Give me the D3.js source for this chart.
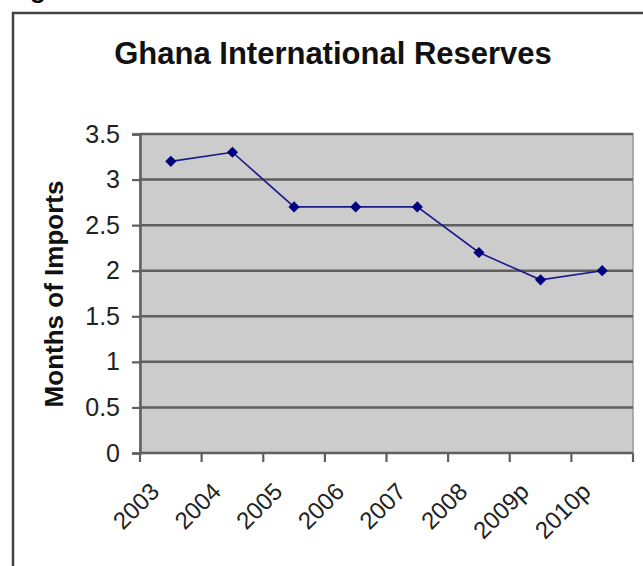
<!DOCTYPE html>
<html lang="en">
<head>
    <meta charset="UTF-8">
    <title>Ghana International Reserves</title>
    <style>
        body { margin: 0; background: #fff; }
        svg { display: block; font-family: "Liberation Sans", Arial, sans-serif; }
    </style>
</head>
<body>
    <div id="chart"></div>
    <script src="https://d3js.org/d3.v7.min.js"></script>
    <script>
        const years = ["2003", "2004", "2005", "2006", "2007", "2008", "2009p", "2010p"];
        const months = [3.2, 3.3, 2.7, 2.7, 2.7, 2.2, 1.9, 2.0];
        const yTicks = [0, 0.5, 1, 1.5, 2, 2.5, 3, 3.5];

        const W = 643, H = 566;
        const plot = { left: 140, right: 633, top: 134, bottom: 453 };

        const svg = d3.select("#chart").append("svg")
            .attr("width", W)
            .attr("height", H);

        // bit of the caption above, cut off by the crop
        svg.append("text")
            .attr("x", 30).attr("y", -2)
            .attr("font-size", 26).attr("font-weight", "bold")
            .text("g");

        // outer chart frame
        svg.append("rect")
            .attr("x", 13).attr("y", 13)
            .attr("width", 640).attr("height", 600)
            .attr("fill", "none")
            .attr("stroke", "#444")
            .attr("stroke-width", 2.5);

        svg.append("text")
            .attr("x", 333).attr("y", 64)
            .attr("text-anchor", "middle")
            .attr("font-size", 31).attr("font-weight", "bold")
            .attr("fill", "#111")
            .text("Ghana International Reserves");

        const x = d3.scaleBand().domain(years).range([plot.left, plot.right]);
        const y = d3.scaleLinear().domain([0, 3.5]).range([plot.bottom, plot.top]);

        svg.append("rect")
            .attr("x", plot.left).attr("y", plot.top)
            .attr("width", plot.right - plot.left)
            .attr("height", plot.bottom - plot.top)
            .attr("fill", "#cccccc")
            .attr("stroke", "#999")
            .attr("stroke-width", 1.5);

        // gridlines
        svg.append("g")
            .selectAll("line")
            .data(yTicks.filter(d => d > 0))
            .join("line")
            .attr("x1", plot.left).attr("x2", plot.right)
            .attr("y1", d => y(d)).attr("y2", d => y(d))
            .attr("stroke", "#5f5f5f")
            .attr("stroke-width", 2.5);

        // y axis
        const yAxis = svg.append("g")
            .attr("transform", `translate(${plot.left},0)`)
            .call(d3.axisLeft(y).tickValues(yTicks).tickFormat(d3.format("")).tickSize(8).tickPadding(12));
        yAxis.select(".domain").attr("stroke", "#5f5f5f").attr("stroke-width", 2.5);
        yAxis.selectAll(".tick line").attr("stroke", "#5f5f5f").attr("stroke-width", 2.2);
        yAxis.selectAll("text").attr("font-size", 25).attr("fill", "#222")
            .attr("font-family", "Liberation Sans, Arial, sans-serif");

        // x axis: ticks between categories
        const xAxis = svg.append("g")
            .attr("transform", `translate(0,${plot.bottom})`);
        xAxis.append("line")
            .attr("x1", plot.left).attr("x2", plot.right)
            .attr("stroke", "#5f5f5f").attr("stroke-width", 2.5);
        const bounds = years.map(d => x(d)).concat([x(years[years.length - 1]) + x.bandwidth()]);
        xAxis.selectAll(".xt")
            .data(bounds)
            .join("line")
            .attr("class", "xt")
            .attr("x1", d => d).attr("x2", d => d)
            .attr("y1", 0).attr("y2", 9)
            .attr("stroke", "#5f5f5f").attr("stroke-width", 2.2);
        xAxis.selectAll(".xl")
            .data(years)
            .join("text")
            .attr("class", "xl")
            .attr("transform", d => `translate(${x(d) + x.bandwidth() / 2 - 10},${40}) rotate(-45)`)
            .attr("text-anchor", "end")
            .attr("font-size", 24)
            .attr("fill", "#222")
            .text(d => d);

        svg.append("text")
            .attr("transform", `translate(63,294) rotate(-90)`)
            .attr("text-anchor", "middle")
            .attr("font-size", 26).attr("font-weight", "bold")
            .attr("fill", "#111")
            .text("Months of Imports");

        const pts = years.map((d, i) => [x(d) + x.bandwidth() / 2, y(months[i])]);

        svg.append("path")
            .attr("d", d3.line()(pts))
            .attr("fill", "none")
            .attr("stroke", "#1a1a8c")
            .attr("stroke-width", 1.6);

        svg.append("g")
            .selectAll("path")
            .data(pts)
            .join("path")
            .attr("transform", d => `translate(${d[0]},${d[1]})`)
            .attr("d", d3.symbol(d3.symbolDiamond2, 80))
            .attr("fill", "#000080");
    </script>
</body>
</html>
